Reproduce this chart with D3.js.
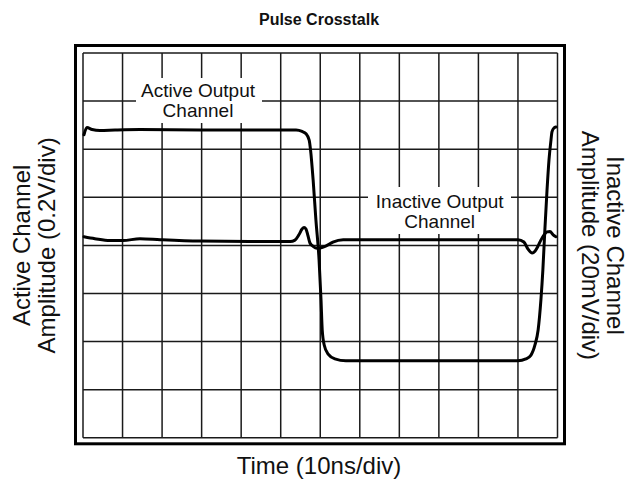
<!DOCTYPE html>
<html>
<head>
<meta charset="utf-8">
<script src="https://cdn.jsdelivr.net/npm/d3@7"></script>
<style>
  html, body { margin: 0; padding: 0; background: #fff; }
  svg { display: block; font-family: "Liberation Sans", Arial, Helvetica, sans-serif; }
</style>
</head>
<body>
<svg id="chart" width="636" height="482"></svg>
<script>
// Screen graticule: 12 horizontal divisions (10 ns each), 8 vertical divisions
const timeGrid = [0, 10, 20, 30, 40, 50, 60, 70, 80, 90, 100, 110, 120];
const ampGrid = [0, 1, 2, 3, 4, 5, 6, 7, 8];

// Active output channel trace: time (ns) and screen position (divisions from bottom)
const activeTime = [0.25, 1.0, 2.3, 4.3, 8.1, 14.4, 29.6, 44.8, 53.9, 55.4, 56.4, 57.2, 57.55, 58.2, 58.9, 59.7, 60.2, 60.5, 61.0, 62.0, 63.7, 66.5, 80.2, 95.4, 110.0, 112.0, 113.3, 114.3, 115.1, 115.8, 116.3, 116.8, 117.35, 117.85, 118.35, 118.6, 119.1, 119.6];
const activeAmp = [6.30, 6.45, 6.41, 6.39, 6.40, 6.41, 6.40, 6.40, 6.40, 6.37, 6.32, 6.19, 5.98, 5.36, 4.53, 3.70, 2.86, 2.24, 1.93, 1.74, 1.64, 1.60, 1.60, 1.60, 1.60, 1.64, 1.72, 1.93, 2.24, 2.86, 3.49, 4.32, 5.15, 5.78, 6.19, 6.36, 6.44, 6.46];

// Inactive output channel trace (crosstalk)
const inactiveTime = [0.25, 3.0, 6.8, 10.1, 14.4, 19.5, 29.6, 42.2, 52.4, 53.6, 54.6, 55.4, 55.9, 56.4, 56.9, 57.4, 58.2, 59.2, 60.2, 61.5, 63.2, 65.8, 80.2, 100.4, 110.0, 111.5, 112.5, 113.6, 114.3, 115.1, 115.8, 116.6, 117.35, 118.1, 118.9, 119.6];
const inactiveAmp = [4.18, 4.14, 4.10, 4.10, 4.14, 4.12, 4.09, 4.08, 4.08, 4.11, 4.22, 4.34, 4.37, 4.34, 4.20, 4.05, 3.98, 3.94, 3.95, 3.99, 4.07, 4.12, 4.12, 4.12, 4.12, 4.07, 3.93, 3.84, 3.88, 3.99, 4.11, 4.22, 4.28, 4.29, 4.22, 4.18];

const svg = d3.select("#chart");

const plot = { left: 83, right: 557.5, top: 53, bottom: 437.8 };

const x = d3.scaleLinear().domain([0, 120]).range([plot.left, plot.right]);
const y = d3.scaleLinear().domain([0, 8]).range([plot.bottom, plot.top]);

// Title
svg.append("text")
  .attr("x", 319).attr("y", 25)
  .attr("text-anchor", "middle")
  .attr("font-size", 16).attr("font-weight", "bold")
  .attr("fill", "#111")
  .text("Pulse Crosstalk");

// Outer heavy bezel
svg.append("rect")
  .attr("x", plot.left - 7.5).attr("y", plot.top - 7.5)
  .attr("width", plot.right - plot.left + 14.5)
  .attr("height", plot.bottom - plot.top + 13.5)
  .attr("fill", "none").attr("stroke", "#000").attr("stroke-width", 3);

// Graticule
const grid = svg.append("g").attr("stroke", "#1a1a1a").attr("stroke-width", 1.5);
grid.selectAll("line.v").data(timeGrid).join("line")
  .attr("class", "v")
  .attr("x1", d => x(d)).attr("x2", d => x(d))
  .attr("y1", y(0)).attr("y2", y(8));
grid.selectAll("line.h").data(ampGrid).join("line")
  .attr("class", "h")
  .attr("y1", d => y(d)).attr("y2", d => y(d))
  .attr("x1", x(0)).attr("x2", x(120));

// Trace labels with a white backing over the graticule
function traceLabel(cx, baseline, lines, box) {
  const g = svg.append("g");
  g.append("rect")
    .attr("x", box.x0).attr("y", box.y0)
    .attr("width", box.x1 - box.x0).attr("height", box.y1 - box.y0)
    .attr("fill", "#fff");
  lines.forEach((t, i) => {
    g.append("text")
      .attr("x", cx).attr("y", baseline + i * 20)
      .attr("text-anchor", "middle")
      .attr("font-size", 19).attr("fill", "#111")
      .text(t);
  });
}
traceLabel(198, 96.7, ["Active Output", "Channel"], { x0: 136, x1: 262, y0: 78, y1: 123 });
traceLabel(439.7, 208.3, ["Inactive Output", "Channel"], { x0: 368, x1: 511, y0: 187, y1: 234 });

// Traces
const line = d3.line().curve(d3.curveMonotoneX);
const traces = [
  { t: activeTime, v: activeAmp },
  { t: inactiveTime, v: inactiveAmp }
];
svg.selectAll("path.trace").data(traces).join("path")
  .attr("class", "trace")
  .attr("d", d => line(d.t.map((t, i) => [x(t), y(d.v[i])])))
  .attr("fill", "none")
  .attr("stroke", "#000")
  .attr("stroke-width", 3)
  .attr("stroke-linejoin", "round")
  .attr("stroke-linecap", "round");

// Axis titles
const midY = (plot.top + plot.bottom) / 2;
const left = svg.append("g")
  .attr("transform", `translate(0,${midY}) rotate(-90)`)
  .attr("font-size", 24).attr("fill", "#111").attr("text-anchor", "middle");
left.append("text").attr("x", 0).attr("y", 30).text("Active Channel");
left.append("text").attr("x", 0).attr("y", 55).text("Amplitude (0.2V/div)");

const right = svg.append("g")
  .attr("transform", `translate(0,${midY}) rotate(90)`)
  .attr("font-size", 24).attr("fill", "#111").attr("text-anchor", "middle");
right.append("text").attr("x", 0).attr("y", -607).text("Inactive Channel");
right.append("text").attr("x", 0).attr("y", -582).text("Amplitude (20mV/div)");

svg.append("text")
  .attr("x", 319).attr("y", 474)
  .attr("text-anchor", "middle")
  .attr("font-size", 24).attr("fill", "#111")
  .text("Time (10ns/div)");
</script>
</body>
</html>
